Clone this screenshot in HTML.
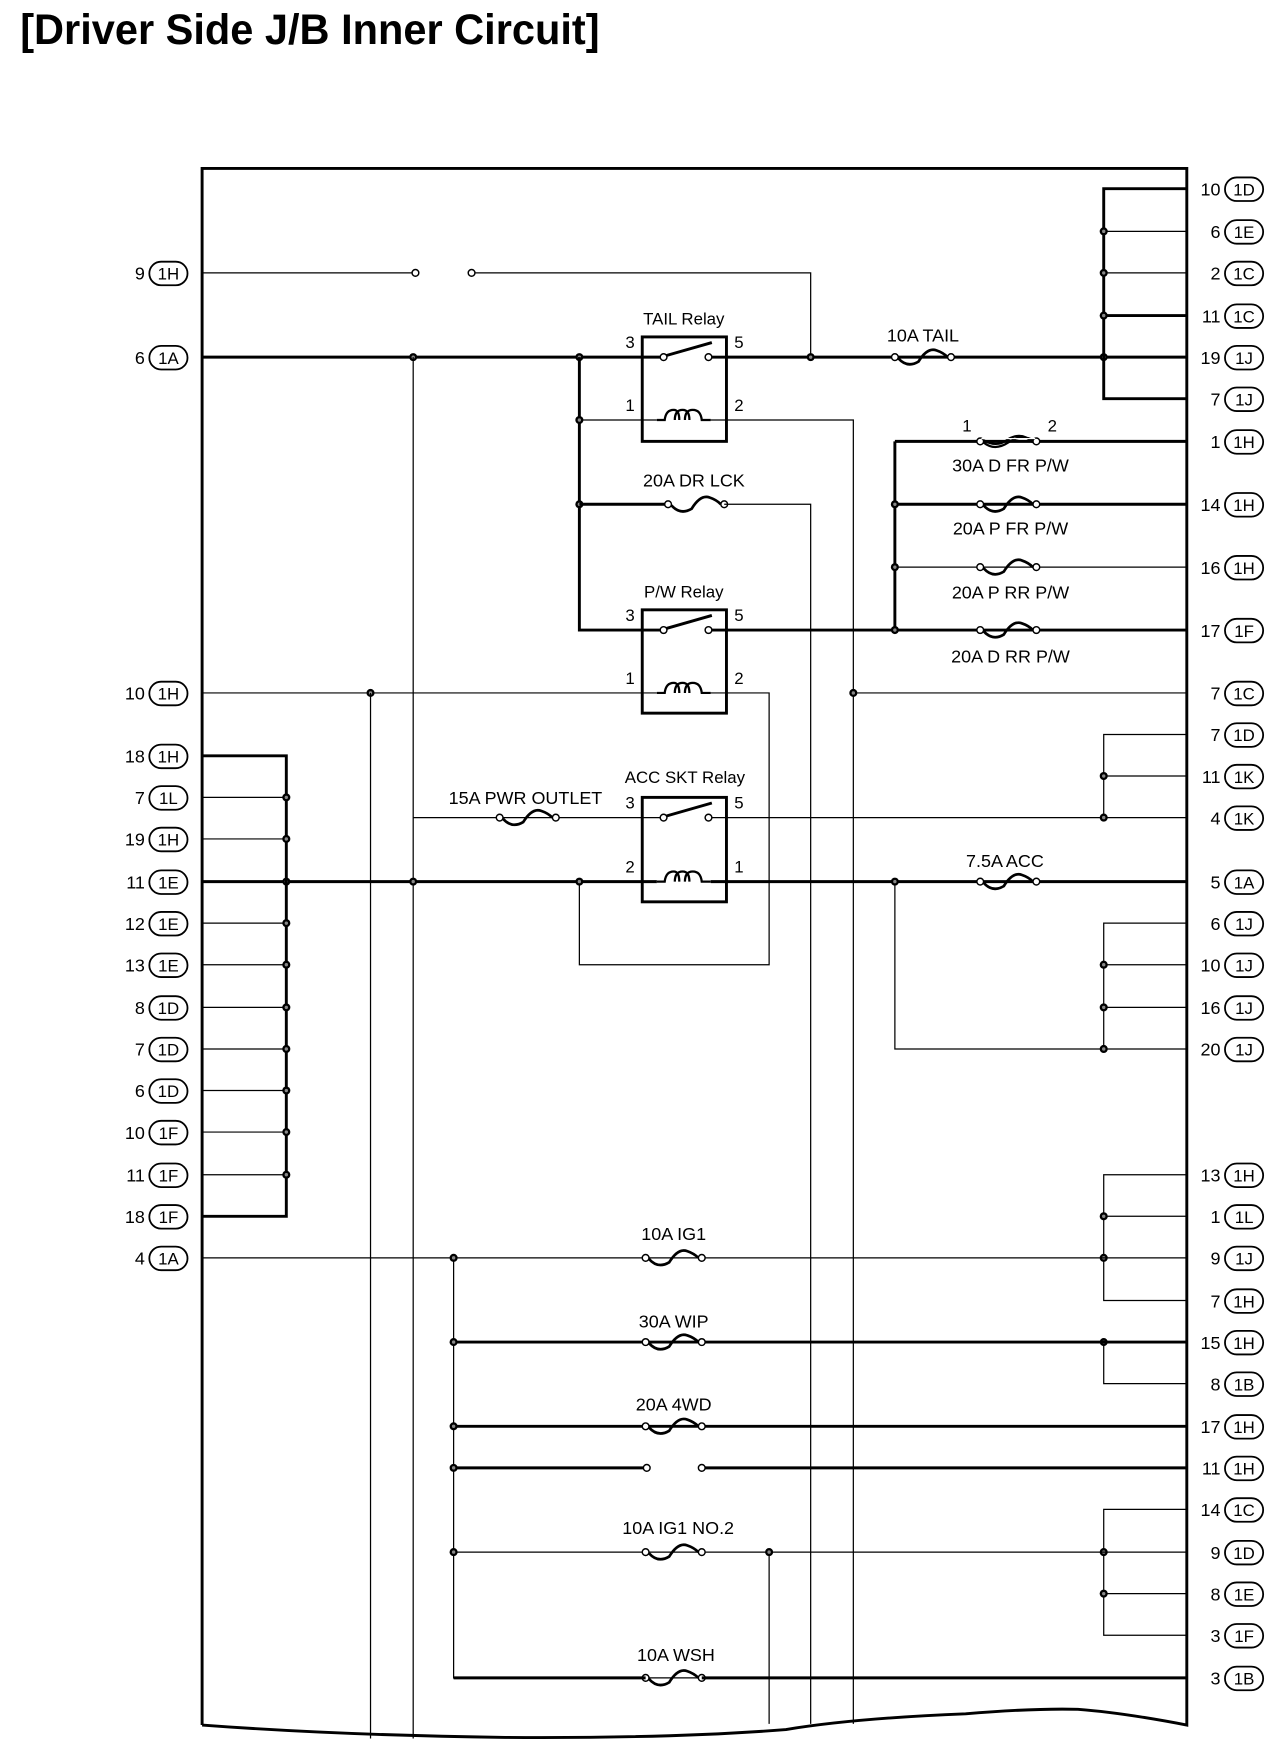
<!DOCTYPE html>
<html><head><meta charset="utf-8"><style>
html,body{margin:0;padding:0;background:#fff;}
svg{display:block;}
text{font-family:"Liberation Sans",sans-serif;fill:#000;}
.tk{stroke:#000;stroke-width:2.6;fill:none;}
.tn{stroke:#000;stroke-width:1.1;fill:none;}
.lbl{font-size:16px;}
.pin{font-size:16px;text-anchor:end;}
.bd{font-size:15px;text-anchor:middle;}
.rl{font-size:15px;}
</style></head><body>
<svg width="1280" height="1752" viewBox="0 0 1140 1560" preserveAspectRatio="none" xmlns="http://www.w3.org/2000/svg">
<defs>
<g id="fuse"><circle cx="-25" cy="0" r="3" fill="#fff" stroke="#000" stroke-width="1.3"/><circle cx="25" cy="0" r="3" fill="#fff" stroke="#000" stroke-width="1.3"/><path d="M-22 1 Q-14 10 -4 4 Q4 -9 12 -6 Q18 -4 22 0" fill="none" stroke="#000" stroke-width="2.4"/></g>
<g id="dot"><circle r="3.6" fill="#000"/><circle r="1.5" fill="#888"/></g>
<g id="oc"><circle r="3" fill="#fff" stroke="#000" stroke-width="1.3"/></g>
<g id="coil"><path d="M-24 0 L-17 0 Q-16 -9 -9 -9 Q-4 -9 -4 0 M-8 0 Q-8 -9 -1 -9 Q5 -9 5 0 M1 0 Q1 -9 8 -9 Q15 -9 16 0 L24 0" fill="none" stroke="#000" stroke-width="2"/></g>
</defs>
<text x="18" y="39" textLength="516" lengthAdjust="spacingAndGlyphs" style="font-size:38px;font-weight:bold;">[Driver Side J/B Inner Circuit]</text>

<!-- frame -->
<path class="tk" d="M180 1536 L180 150 L1057 150 L1057 1536 Q1000 1525 960 1522 Q920 1521 860 1526 Q760 1530 700 1540 Q600 1548 450 1547 Q300 1545 180 1536"/>

<!-- 9 1H -->
<line class="tn" x1="180" y1="243" x2="367" y2="243"/><use href="#oc" x="370" y="243"/><use href="#oc" x="420" y="243"/>
<polyline class="tn" points="423,243 722,243 722,318"/>
<!-- 6 1A -->
<line class="tk" x1="180" y1="318" x2="590" y2="318"/>
<line class="tk" x1="632" y1="318" x2="1057" y2="318"/>
<use href="#fuse" x="822" y="318"/>
<!-- TAIL relay -->
<rect x="572" y="300" width="75" height="93" fill="#fff" stroke="#000" stroke-width="2.6"/>
<line class="tk" x1="572" y1="318" x2="588" y2="318"/><line class="tk" x1="634" y1="318" x2="647" y2="318"/>
<line class="tk" x1="592" y1="317" x2="634" y2="305"/>
<use href="#oc" x="591" y="318"/><use href="#oc" x="631" y="318"/>
<use href="#coil" x="609" y="374"/>
<line class="tn" x1="516" y1="374" x2="585" y2="374"/>
<polyline class="tn" points="633,374 760,374 760,1535"/>
<text class="rl" x="609" y="289" text-anchor="middle">TAIL Relay</text>
<text class="rl" x="557" y="310">3</text><text class="rl" x="654" y="310">5</text>
<text class="rl" x="557" y="366">1</text><text class="rl" x="654" y="366">2</text>
<text class="lbl" x="822" y="304" text-anchor="middle">10A TAIL</text>
<use href="#dot" x="368" y="318"/><use href="#dot" x="516" y="318"/><use href="#dot" x="722" y="318"/><use href="#dot" x="983" y="318"/>

<!-- 516 vertical -->
<polyline class="tk" points="516,318 516,561 590,561"/>
<use href="#dot" x="516" y="374"/><use href="#dot" x="516" y="449"/>
<line class="tk" x1="516" y1="449" x2="595" y2="449"/><use href="#fuse" x="620" y="449"/>
<polyline class="tn" points="645,449 722,449 722,1535"/>
<text class="lbl" x="618" y="433" text-anchor="middle">20A DR LCK</text>

<!-- P/W relay -->
<rect x="572" y="543" width="75" height="92" fill="#fff" stroke="#000" stroke-width="2.6"/>
<line class="tk" x1="572" y1="561" x2="588" y2="561"/>
<line class="tk" x1="592" y1="560" x2="634" y2="548"/>
<use href="#oc" x="591" y="561"/><use href="#oc" x="631" y="561"/>
<line class="tk" x1="634" y1="561" x2="1057" y2="561"/>
<use href="#coil" x="609" y="617"/>
<line class="tn" x1="180" y1="617" x2="585" y2="617"/>
<polyline class="tn" points="633,617 685,617 685,859 516,859 516,785"/>
<text class="rl" x="609" y="532" text-anchor="middle">P/W Relay</text>
<text class="rl" x="557" y="553">3</text><text class="rl" x="654" y="553">5</text>
<text class="rl" x="557" y="609">1</text><text class="rl" x="654" y="609">2</text>
<use href="#dot" x="330" y="617"/>
<line class="tn" x1="330" y1="617" x2="330" y2="1548"/>
<line class="tn" x1="760" y1="617" x2="1057" y2="617"/><use href="#dot" x="760" y="617"/>

<!-- P/W fuses -->
<line class="tk" x1="797" y1="393" x2="797" y2="561"/>
<line class="tk" x1="797" y1="393" x2="1057" y2="393"/>
<circle cx="873" cy="393" r="3" fill="#fff" stroke="#000" stroke-width="1.3"/><circle cx="923" cy="393" r="3" fill="#fff" stroke="#000" stroke-width="1.3"/>
<path d="M876 394 Q886 402 898 394 Q910 386 920 392 M876 392 Q888 399 898 391 Q910 384 920 394" fill="none" stroke="#000" stroke-width="2"/>
<rect x="874" y="390" width="48" height="1" fill="#fff"/>
<text class="rl" x="857" y="384">1</text><text class="rl" x="933" y="384">2</text>
<text class="lbl" x="900" y="420" text-anchor="middle">30A D FR P/W</text>
<line class="tk" x1="797" y1="449" x2="1057" y2="449"/><use href="#fuse" x="898" y="449"/>
<text class="lbl" x="900" y="476" text-anchor="middle">20A P FR P/W</text>
<line class="tn" x1="797" y1="505" x2="1057" y2="505"/><use href="#fuse" x="898" y="505"/>
<text class="lbl" x="900" y="533" text-anchor="middle">20A P RR P/W</text>
<use href="#fuse" x="898" y="561"/>
<text class="lbl" x="900" y="590" text-anchor="middle">20A D RR P/W</text>
<use href="#dot" x="797" y="449"/><use href="#dot" x="797" y="505"/><use href="#dot" x="797" y="561"/>

<!-- 368 vertical & ACC relay -->
<line class="tn" x1="368" y1="318" x2="368" y2="1548"/>
<line class="tn" x1="368" y1="728" x2="585" y2="728"/><use href="#fuse" x="470" y="728"/>
<text class="lbl" x="468" y="716" text-anchor="middle">15A PWR OUTLET</text>
<rect x="572" y="710" width="75" height="93" fill="#fff" stroke="#000" stroke-width="2.6"/>
<line class="tn" x1="572" y1="728" x2="588" y2="728"/>
<line class="tk" x1="592" y1="727" x2="634" y2="715"/>
<use href="#oc" x="591" y="728"/><use href="#oc" x="631" y="728"/>
<line class="tn" x1="634" y1="728" x2="1057" y2="728"/>
<use href="#coil" x="609" y="785"/>
<line class="tk" x1="180" y1="785" x2="585" y2="785"/>
<line class="tk" x1="633" y1="785" x2="1057" y2="785"/><use href="#fuse" x="898" y="785"/>
<text class="rl" x="610" y="697" text-anchor="middle">ACC SKT Relay</text>
<text class="rl" x="557" y="720">3</text><text class="rl" x="654" y="720">5</text>
<text class="rl" x="557" y="777">2</text><text class="rl" x="654" y="777">1</text>
<text class="lbl" x="895" y="772" text-anchor="middle">7.5A ACC</text>
<polyline class="tn" points="797,785 797,934 1057,934"/>
<use href="#dot" x="255" y="785"/><use href="#dot" x="368" y="785"/><use href="#dot" x="516" y="785"/><use href="#dot" x="797" y="785"/>

<!-- left bus -->
<polyline class="tk" points="180,673 255,673 255,1083 180,1083"/>
<g class="tn">
<line x1="180" y1="710" x2="255" y2="710"/><line x1="180" y1="747" x2="255" y2="747"/><line x1="180" y1="822" x2="255" y2="822"/><line x1="180" y1="859" x2="255" y2="859"/><line x1="180" y1="897" x2="255" y2="897"/><line x1="180" y1="934" x2="255" y2="934"/><line x1="180" y1="971" x2="255" y2="971"/><line x1="180" y1="1008" x2="255" y2="1008"/><line x1="180" y1="1046" x2="255" y2="1046"/>
</g>
<use href="#dot" x="255" y="710"/><use href="#dot" x="255" y="747"/><use href="#dot" x="255" y="822"/><use href="#dot" x="255" y="859"/><use href="#dot" x="255" y="897"/><use href="#dot" x="255" y="934"/><use href="#dot" x="255" y="971"/><use href="#dot" x="255" y="1008"/><use href="#dot" x="255" y="1046"/>

<!-- right buses -->
<polyline class="tk" points="1057,168 983,168 983,355 1057,355"/>
<line class="tn" x1="983" y1="206" x2="1057" y2="206"/><line class="tn" x1="983" y1="243" x2="1057" y2="243"/><line class="tk" x1="983" y1="281" x2="1057" y2="281"/>
<use href="#dot" x="983" y="206"/><use href="#dot" x="983" y="243"/><use href="#dot" x="983" y="281"/>
<polyline class="tn" points="1057,654 983,654 983,728"/><line class="tn" x1="983" y1="691" x2="1057" y2="691"/>
<use href="#dot" x="983" y="691"/><use href="#dot" x="983" y="728"/>
<polyline class="tn" points="1057,822 983,822 983,934"/><line class="tn" x1="983" y1="859" x2="1057" y2="859"/><line class="tn" x1="983" y1="897" x2="1057" y2="897"/>
<use href="#dot" x="983" y="859"/><use href="#dot" x="983" y="897"/><use href="#dot" x="983" y="934"/>
<polyline class="tn" points="1057,1046 983,1046 983,1158 1057,1158"/><line class="tn" x1="983" y1="1083" x2="1057" y2="1083"/>
<use href="#dot" x="983" y="1083"/><use href="#dot" x="983" y="1120"/>
<polyline class="tn" points="983,1195 983,1232 1057,1232"/><use href="#dot" x="983" y="1195"/>
<polyline class="tn" points="1057,1344 983,1344 983,1456 1057,1456"/><line class="tn" x1="983" y1="1419" x2="1057" y2="1419"/>
<use href="#dot" x="983" y="1382"/><use href="#dot" x="983" y="1419"/>

<!-- IG rows -->
<line class="tn" x1="180" y1="1120" x2="1057" y2="1120"/><use href="#fuse" x="600" y="1120"/>
<text class="lbl" x="600" y="1104" text-anchor="middle">10A IG1</text>
<polyline class="tn" points="404,1120 404,1494 1057,1494"/>
<line class="tk" x1="404" y1="1195" x2="1057" y2="1195"/><use href="#fuse" x="600" y="1195"/>
<text class="lbl" x="600" y="1182" text-anchor="middle">30A WIP</text>
<line class="tk" x1="404" y1="1270" x2="1057" y2="1270"/><use href="#fuse" x="600" y="1270"/>
<text class="lbl" x="600" y="1256" text-anchor="middle">20A 4WD</text>
<line class="tk" x1="404" y1="1307" x2="573" y2="1307"/><line class="tk" x1="628" y1="1307" x2="1057" y2="1307"/>
<use href="#oc" x="576" y="1307"/><use href="#oc" x="625" y="1307"/>
<line class="tn" x1="404" y1="1382" x2="1057" y2="1382"/><use href="#fuse" x="600" y="1382"/>
<text class="lbl" x="604" y="1366" text-anchor="middle">10A IG1 NO.2</text>
<line class="tn" x1="685" y1="1382" x2="685" y2="1535"/>
<use href="#fuse" x="600" y="1494"/>
<line class="tk" x1="404" y1="1494" x2="575" y2="1494"/><line class="tk" x1="625" y1="1494" x2="1057" y2="1494"/>
<text class="lbl" x="602" y="1479" text-anchor="middle">10A WSH</text>
<use href="#dot" x="404" y="1120"/><use href="#dot" x="404" y="1195"/><use href="#dot" x="404" y="1270"/><use href="#dot" x="404" y="1307"/><use href="#dot" x="404" y="1382"/><use href="#dot" x="685" y="1382"/>

<!-- left connectors -->
<g fill="#fff" stroke="#000" stroke-width="1.6">
<rect x="133" y="233" width="34" height="21" rx="10.5"/><rect x="133" y="308" width="34" height="21" rx="10.5"/><rect x="133" y="607" width="34" height="21" rx="10.5"/><rect x="133" y="663" width="34" height="21" rx="10.5"/><rect x="133" y="700" width="34" height="21" rx="10.5"/><rect x="133" y="737" width="34" height="21" rx="10.5"/><rect x="133" y="775" width="34" height="21" rx="10.5"/><rect x="133" y="812" width="34" height="21" rx="10.5"/><rect x="133" y="849" width="34" height="21" rx="10.5"/><rect x="133" y="887" width="34" height="21" rx="10.5"/><rect x="133" y="924" width="34" height="21" rx="10.5"/><rect x="133" y="961" width="34" height="21" rx="10.5"/><rect x="133" y="998" width="34" height="21" rx="10.5"/><rect x="133" y="1036" width="34" height="21" rx="10.5"/><rect x="133" y="1073" width="34" height="21" rx="10.5"/><rect x="133" y="1110" width="34" height="21" rx="10.5"/>
</g>
<text class="pin" x="129" y="249">9</text><text class="bd" x="150" y="249">1H</text>
<text class="pin" x="129" y="324">6</text><text class="bd" x="150" y="324">1A</text>
<text class="pin" x="129" y="623">10</text><text class="bd" x="150" y="623">1H</text>
<text class="pin" x="129" y="679">18</text><text class="bd" x="150" y="679">1H</text>
<text class="pin" x="129" y="716">7</text><text class="bd" x="150" y="716">1L</text>
<text class="pin" x="129" y="753">19</text><text class="bd" x="150" y="753">1H</text>
<text class="pin" x="129" y="791">11</text><text class="bd" x="150" y="791">1E</text>
<text class="pin" x="129" y="828">12</text><text class="bd" x="150" y="828">1E</text>
<text class="pin" x="129" y="865">13</text><text class="bd" x="150" y="865">1E</text>
<text class="pin" x="129" y="903">8</text><text class="bd" x="150" y="903">1D</text>
<text class="pin" x="129" y="940">7</text><text class="bd" x="150" y="940">1D</text>
<text class="pin" x="129" y="977">6</text><text class="bd" x="150" y="977">1D</text>
<text class="pin" x="129" y="1014">10</text><text class="bd" x="150" y="1014">1F</text>
<text class="pin" x="129" y="1052">11</text><text class="bd" x="150" y="1052">1F</text>
<text class="pin" x="129" y="1089">18</text><text class="bd" x="150" y="1089">1F</text>
<text class="pin" x="129" y="1126">4</text><text class="bd" x="150" y="1126">1A</text>

<!-- right connectors -->
<g fill="#fff" stroke="#000" stroke-width="1.6">
<rect x="1091" y="158" width="34" height="21" rx="10.5"/><rect x="1091" y="196" width="34" height="21" rx="10.5"/><rect x="1091" y="233" width="34" height="21" rx="10.5"/><rect x="1091" y="271" width="34" height="21" rx="10.5"/><rect x="1091" y="308" width="34" height="21" rx="10.5"/><rect x="1091" y="345" width="34" height="21" rx="10.5"/><rect x="1091" y="383" width="34" height="21" rx="10.5"/><rect x="1091" y="439" width="34" height="21" rx="10.5"/><rect x="1091" y="495" width="34" height="21" rx="10.5"/><rect x="1091" y="551" width="34" height="21" rx="10.5"/><rect x="1091" y="607" width="34" height="21" rx="10.5"/><rect x="1091" y="644" width="34" height="21" rx="10.5"/><rect x="1091" y="681" width="34" height="21" rx="10.5"/><rect x="1091" y="718" width="34" height="21" rx="10.5"/><rect x="1091" y="775" width="34" height="21" rx="10.5"/><rect x="1091" y="812" width="34" height="21" rx="10.5"/><rect x="1091" y="849" width="34" height="21" rx="10.5"/><rect x="1091" y="887" width="34" height="21" rx="10.5"/><rect x="1091" y="924" width="34" height="21" rx="10.5"/><rect x="1091" y="1036" width="34" height="21" rx="10.5"/><rect x="1091" y="1073" width="34" height="21" rx="10.5"/><rect x="1091" y="1110" width="34" height="21" rx="10.5"/><rect x="1091" y="1148" width="34" height="21" rx="10.5"/><rect x="1091" y="1185" width="34" height="21" rx="10.5"/><rect x="1091" y="1222" width="34" height="21" rx="10.5"/><rect x="1091" y="1260" width="34" height="21" rx="10.5"/><rect x="1091" y="1297" width="34" height="21" rx="10.5"/><rect x="1091" y="1334" width="34" height="21" rx="10.5"/><rect x="1091" y="1372" width="34" height="21" rx="10.5"/><rect x="1091" y="1409" width="34" height="21" rx="10.5"/><rect x="1091" y="1446" width="34" height="21" rx="10.5"/><rect x="1091" y="1484" width="34" height="21" rx="10.5"/>
</g>
<text class="pin" x="1087" y="174">10</text><text class="bd" x="1108" y="174">1D</text>
<text class="pin" x="1087" y="212">6</text><text class="bd" x="1108" y="212">1E</text>
<text class="pin" x="1087" y="249">2</text><text class="bd" x="1108" y="249">1C</text>
<text class="pin" x="1087" y="287">11</text><text class="bd" x="1108" y="287">1C</text>
<text class="pin" x="1087" y="324">19</text><text class="bd" x="1108" y="324">1J</text>
<text class="pin" x="1087" y="361">7</text><text class="bd" x="1108" y="361">1J</text>
<text class="pin" x="1087" y="399">1</text><text class="bd" x="1108" y="399">1H</text>
<text class="pin" x="1087" y="455">14</text><text class="bd" x="1108" y="455">1H</text>
<text class="pin" x="1087" y="511">16</text><text class="bd" x="1108" y="511">1H</text>
<text class="pin" x="1087" y="567">17</text><text class="bd" x="1108" y="567">1F</text>
<text class="pin" x="1087" y="623">7</text><text class="bd" x="1108" y="623">1C</text>
<text class="pin" x="1087" y="660">7</text><text class="bd" x="1108" y="660">1D</text>
<text class="pin" x="1087" y="697">11</text><text class="bd" x="1108" y="697">1K</text>
<text class="pin" x="1087" y="734">4</text><text class="bd" x="1108" y="734">1K</text>
<text class="pin" x="1087" y="791">5</text><text class="bd" x="1108" y="791">1A</text>
<text class="pin" x="1087" y="828">6</text><text class="bd" x="1108" y="828">1J</text>
<text class="pin" x="1087" y="865">10</text><text class="bd" x="1108" y="865">1J</text>
<text class="pin" x="1087" y="903">16</text><text class="bd" x="1108" y="903">1J</text>
<text class="pin" x="1087" y="940">20</text><text class="bd" x="1108" y="940">1J</text>
<text class="pin" x="1087" y="1052">13</text><text class="bd" x="1108" y="1052">1H</text>
<text class="pin" x="1087" y="1089">1</text><text class="bd" x="1108" y="1089">1L</text>
<text class="pin" x="1087" y="1126">9</text><text class="bd" x="1108" y="1126">1J</text>
<text class="pin" x="1087" y="1164">7</text><text class="bd" x="1108" y="1164">1H</text>
<text class="pin" x="1087" y="1201">15</text><text class="bd" x="1108" y="1201">1H</text>
<text class="pin" x="1087" y="1238">8</text><text class="bd" x="1108" y="1238">1B</text>
<text class="pin" x="1087" y="1276">17</text><text class="bd" x="1108" y="1276">1H</text>
<text class="pin" x="1087" y="1313">11</text><text class="bd" x="1108" y="1313">1H</text>
<text class="pin" x="1087" y="1350">14</text><text class="bd" x="1108" y="1350">1C</text>
<text class="pin" x="1087" y="1388">9</text><text class="bd" x="1108" y="1388">1D</text>
<text class="pin" x="1087" y="1425">8</text><text class="bd" x="1108" y="1425">1E</text>
<text class="pin" x="1087" y="1462">3</text><text class="bd" x="1108" y="1462">1F</text>
<text class="pin" x="1087" y="1500">3</text><text class="bd" x="1108" y="1500">1B</text>
</svg>
</body></html>
